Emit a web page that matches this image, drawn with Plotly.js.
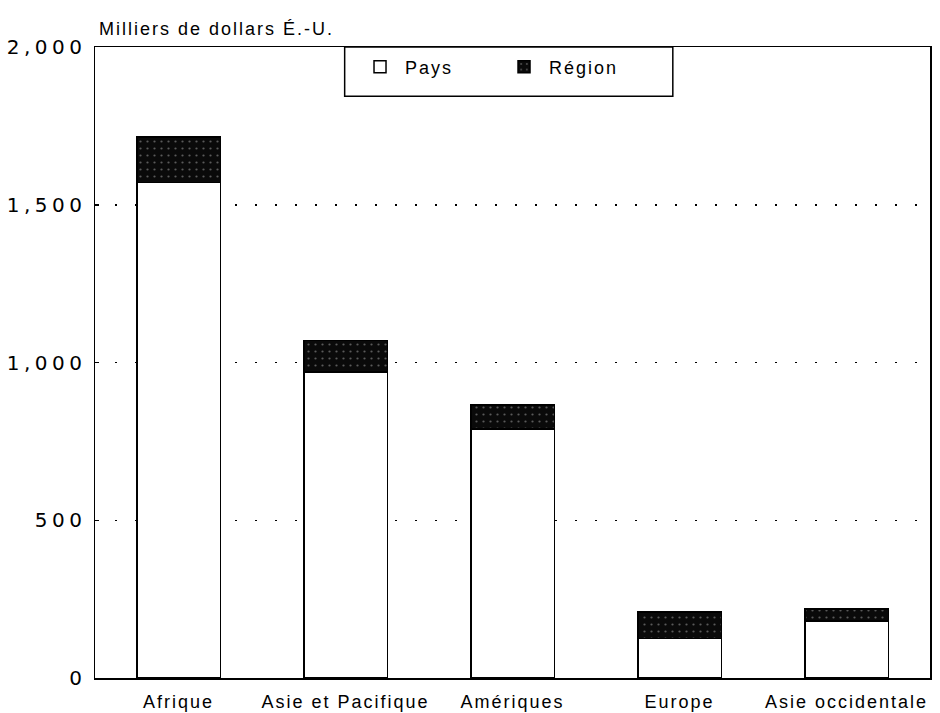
<!DOCTYPE html>
<html>
<head>
<meta charset="utf-8">
<script src="https://cdn.plot.ly/plotly-3.0.1.min.js"></script>
<style>
  html, body { margin: 0; padding: 0; background: #fff; }
  #chart { width: 940px; height: 713px; }
  .xtick text, .legendtext, .annotation-text { letter-spacing: 2px; }
  .ytick text { letter-spacing: 4.5px; }
</style>
</head>
<body>
<div id="chart"></div>
<script>
// Data (thousands of US dollars)
const categories = ["Afrique", "Asie et Pacifique", "Amériques", "Europe", "Asie occidentale"];
const paysValues = [1570, 970, 790, 125, 181];
const regionValues = [145, 100, 75, 85, 38];
const yTickVals = [0, 500, 1000, 1500, 2000];
const yTickText = ["0", "500", "1,000", "1,500", "2,000"];
const seriesNames = ["Pays", "Région"];
const yTitle = "Milliers de dollars É.-U.";

const lineStyle = { color: "#000", width: 1.5 };

const traces = [
  {
    type: "bar",
    name: seriesNames[0],
    x: categories,
    y: paysValues,
    width: 0.5,
    marker: { color: "#ffffff", line: lineStyle },
    hoverinfo: "x+y+name"
  },
  {
    type: "bar",
    name: seriesNames[1],
    x: categories,
    y: regionValues,
    width: 0.5,
    marker: {
      color: "#0a0a0a",
      line: lineStyle,
      pattern: { shape: ".", fgcolor: "#5a5a5a", bgcolor: "#0a0a0a", size: 7, solidity: 0.08 }
    },
    hoverinfo: "x+y+name"
  }
];

const layout = {
  width: 940,
  height: 713,
  margin: { l: 95, r: 10, t: 47, b: 35 },
  paper_bgcolor: "#fff",
  plot_bgcolor: "#fff",
  barmode: "stack",
  showlegend: true,
  font: { family: "Liberation Sans, Arial, sans-serif", color: "#000", size: 18 },
  xaxis: {
    type: "category",
    range: [-0.5, 4.5],
    showline: true, mirror: true, linecolor: "#000", linewidth: 1.5,
    ticks: "", showgrid: false, zeroline: false,
    ticklabelstandoff: 7,
    tickfont: { family: "Liberation Sans, Arial, sans-serif", size: 18, color: "#000" }
  },
  yaxis: {
    range: [0, 2000],
    tickvals: yTickVals,
    ticktext: yTickText,
    showline: true, mirror: true, linecolor: "#000", linewidth: 1.5,
    ticks: "inside", ticklen: 4, tickwidth: 1.5, tickcolor: "#000",
    showgrid: true, gridcolor: "#000", gridwidth: 1.5, griddash: "2px,18px",
    zeroline: false,
    ticklabelstandoff: 3,
    tickfont: { family: "DejaVu Sans, sans-serif", size: 20, color: "#000" }
  },
  legend: {
    orientation: "h",
    x: 0.3114, xanchor: "left",
    y: 0.9975, yanchor: "top",
    bgcolor: "rgba(0,0,0,0)",
    borderwidth: 0,
    traceorder: "normal",
    itemwidth: 40,
    entrywidth: 89,
    font: { family: "Liberation Sans, Arial, sans-serif", size: 18, color: "#000" }
  },
  shapes: [
    {
      type: "rect", xref: "paper", yref: "paper",
      x0: 0.299, x1: 0.692, y0: 0.922, y1: 1,
      line: { color: "#000", width: 1.5 }, fillcolor: "#fff", layer: "below"
    }
  ],
  annotations: [
    {
      text: yTitle,
      xref: "paper", yref: "paper",
      x: 0.002, y: 1, xanchor: "left", yanchor: "bottom", yshift: 6,
      showarrow: false,
      font: { family: "Liberation Sans, Arial, sans-serif", size: 18, color: "#000" }
    }
  ]
};

Plotly.newPlot("chart", traces, layout, { displayModeBar: false, staticPlot: true });
</script>
</body>
</html>
